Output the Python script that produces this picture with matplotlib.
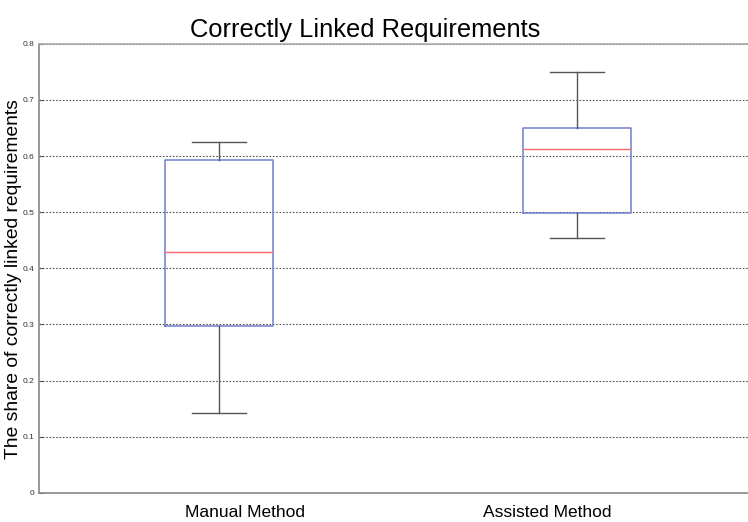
import matplotlib
matplotlib.use("Agg")
import matplotlib.pyplot as plt

# Box statistics
methods = ["Manual Method", "Assisted Method"]
whisker_low = [0.143, 0.454]
q1 = [0.297, 0.499]
medians = [0.429, 0.613]
q3 = [0.593, 0.650]
whisker_high = [0.625, 0.750]
y_ticks = [0, 0.1, 0.2, 0.3, 0.4, 0.5, 0.6, 0.7, 0.8]
y_tick_labels = ["0", "0.1", "0.2", "0.3", "0.4", "0.5", "0.6", "0.7", "0.8"]

plt.rcParams['font.family'] = ['Liberation Sans', 'DejaVu Sans']

stats = []
for i, name in enumerate(methods):
    stats.append({
        'label': name,
        'whislo': whisker_low[i],
        'q1': q1[i],
        'med': medians[i],
        'q3': q3[i],
        'whishi': whisker_high[i],
        'fliers': [],
    })

fig = plt.figure(figsize=(7.48, 5.22), dpi=100)
ax = fig.add_axes([0.052, 0.056, 0.948, 0.860])

ax.bxp(stats, positions=[1, 2], widths=0.30, showfliers=False,
       boxprops=dict(color='#6f7fcc', linewidth=1.1),
       medianprops=dict(color='#ff6a6a', linewidth=1.0),
       whiskerprops=dict(color='#555555', linewidth=1.0),
       capprops=dict(color='#555555', linewidth=1.0),
       capwidths=0.15)

ax.set_xlim(0.497, 2.478)
ax.set_ylim(0, 0.8)
ax.set_yticks(y_ticks)
ax.set_yticklabels(y_tick_labels, fontsize=6)
# the category labels sit a bit off the box centres in the original
ax.set_xticks([1.073, 1.916])
ax.set_xticklabels(methods, fontsize=12.5)
ax.tick_params(axis='x', length=0, pad=9)
ax.tick_params(axis='y', length=3, direction='in', colors='#555555',
               labelcolor='#333333', pad=3)

ax.yaxis.grid(True, linestyle=(0, (1.5, 1.5)), color='#555555', linewidth=0.8)
ax.set_axisbelow(True)

for side in ['left', 'bottom', 'top']:
    ax.spines[side].set_color('#888888')
    ax.spines[side].set_linewidth(1.2)
ax.spines['top'].set_color('#aaaaaa')
ax.spines['right'].set_visible(False)

ax.set_ylabel("The share of correctly linked requirements", fontsize=13.9)
ax.yaxis.set_label_coords(-0.024, 0.475)
ax.set_title("Correctly Linked Requirements", fontsize=18.4, pad=5, x=0.46)

fig.savefig("out.png", dpi=100)
